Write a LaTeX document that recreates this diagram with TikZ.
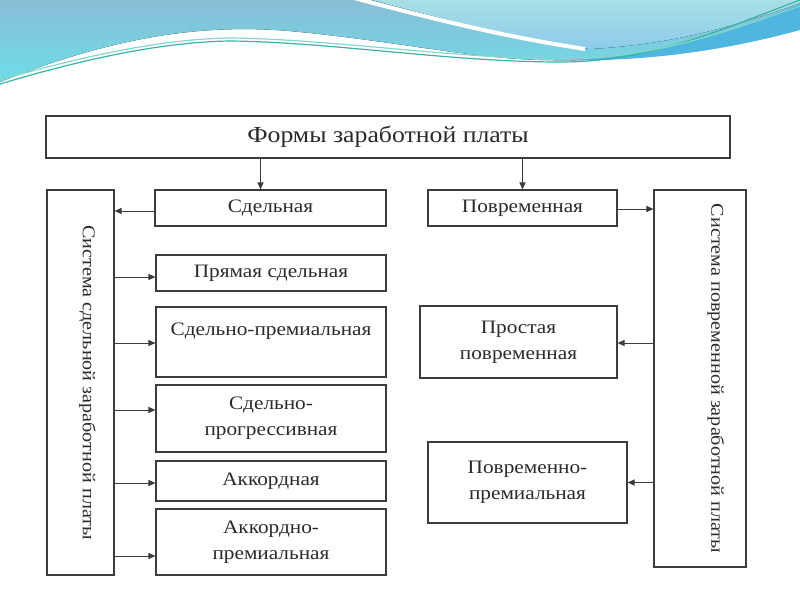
\documentclass[tikz,border=0pt]{standalone}
\usepackage{fontspec}
\setmainfont[FakeStretch=1.12]{Liberation Serif}
\usetikzlibrary{arrows.meta}

\definecolor{boxline}{HTML}{3C3C3C}
\definecolor{txt}{HTML}{2A2A2A}
\definecolor{waveA}{HTML}{88BED6}
\definecolor{waveB}{HTML}{6EDDE8}
\definecolor{waveC}{HTML}{A9E0E6}
\definecolor{waveD}{HTML}{8CCBEA}
\definecolor{waveE}{HTML}{4FB6DF}
\definecolor{lineA}{HTML}{38B3A4}
\definecolor{lineB}{HTML}{86D6CC}

\tikzset{
  box/.style={draw=boxline, line width=1.1pt, align=center, inner sep=2pt,
    text=txt, font=\fontsize{19}{26}\selectfont},
  systext/.style={rotate=-90, text=txt, font=\fontsize{18}{20}\selectfont},
  arr/.style={draw=boxline, line width=1pt, -{Triangle[length=7pt,width=6pt]}},
}

\begin{document}
\begin{tikzpicture}[x=1pt,y=-1pt]
\useasboundingbox (0,0) rectangle (800,600);
% waves at the top
\fill[top color=waveA, bottom color=waveB] (0,0) -- (800,0) -- (800,28)
  .. controls (700,55) and (620,62) .. (540,60)
  .. controls (470,58) and (400,42) .. (300,32)
  .. controls (220,24) and (130,30) .. (0,82) -- cycle;
\fill[waveE] (560,60) .. controls (650,58) and (730,32) .. (800,4) -- (800,30)
  .. controls (720,52) and (640,62) .. (560,60) -- cycle;
\fill[top color=waveC, bottom color=waveD] (372,0) -- (800,0) -- (800,3)
  .. controls (720,32) and (660,45) .. (590,49)
  .. controls (520,40) and (440,18) .. (372,0) -- cycle;
\draw[white, line width=4pt] (350,-3) .. controls (430,18) and (500,36) .. (585,49);
\draw[lineA, line width=1.2pt] (0,84) .. controls (80,60) and (160,42) .. (230,41)
  .. controls (330,42) and (450,62) .. (560,62) .. controls (650,62) and (720,30) .. (800,0);
\draw[lineB, line width=1.2pt] (0,80) .. controls (80,57) and (160,39) .. (230,38)
  .. controls (330,39) and (450,58) .. (560,59) .. controls (650,59) and (720,34) .. (800,6);

% boxes
\node[box, minimum width=684pt, minimum height=42pt, font=\fontsize{23}{26}\selectfont] (forms) at (388,137) {Формы заработной платы};
\node[box, minimum width=231pt, minimum height=36pt] (sdel) at (270.5,208) {Сдельная};
\node[box, minimum width=189pt, minimum height=36pt] (povr) at (522.5,208) {Повременная};

\node[box, minimum width=67pt, minimum height=385pt] (sdsys) at (80.5,382.5) {};
\node[systext] (sdsyst) at ([xshift=7pt]sdsys.center) {Система сдельной заработной платы};
\node[box, minimum width=92pt, minimum height=377pt] (pvsys) at (700,378.5) {};
\node[systext] (pvsyst) at ([xshift=16pt]pvsys.center) {Система повременной заработной платы};

\node[box, minimum width=230pt, minimum height=36pt] (pr) at (271,273) {Прямая сдельная};
\node[box, minimum width=230pt, minimum height=70pt] (sprem) at (271,342) {Сдельно-премиальная\\ \phantom{x}};
\node[box, minimum width=230pt, minimum height=67pt] (sprog) at (271,418.5) {Сдельно-\\прогрессивная};
\node[box, minimum width=230pt, minimum height=40pt] (akk) at (271,481) {Аккордная};
\node[box, minimum width=230pt, minimum height=66pt] (akpr) at (271,542) {Аккордно-\\премиальная};

\node[box, minimum width=197pt, minimum height=72pt] (prost) at (518.5,342) {Простая\\повременная};
\node[box, minimum width=199pt, minimum height=81pt] (pvprem) at (527.5,482.5) {Повременно-\\премиальная};

% connectors
\draw[arr] ([xshift=-10pt]sdel.north |- forms.south) -- ([xshift=-10pt]sdel.north);
\draw[arr] (povr.north |- forms.south) -- (povr.north);
\draw[arr] ([yshift=-3pt]sdel.west) -- ([yshift=-3pt]sdel.west -| sdsys.east);
\draw[arr] ([yshift=-1pt]povr.east) -- ([yshift=-1pt]povr.east -| pvsys.west);
\foreach \n/\d in {pr/-4, sprem/-1, sprog/8.5, akk/-2, akpr/-14}
  \draw[arr] ([yshift=\d pt]sdsys.east |- \n.west) -- ([yshift=\d pt]\n.west);
\draw[arr] ([yshift=-1pt]pvsys.west |- prost.east) -- ([yshift=-1pt]prost.east);
\draw[arr] (pvsys.west |- pvprem.east) -- (pvprem.east);
\end{tikzpicture}
\end{document}
